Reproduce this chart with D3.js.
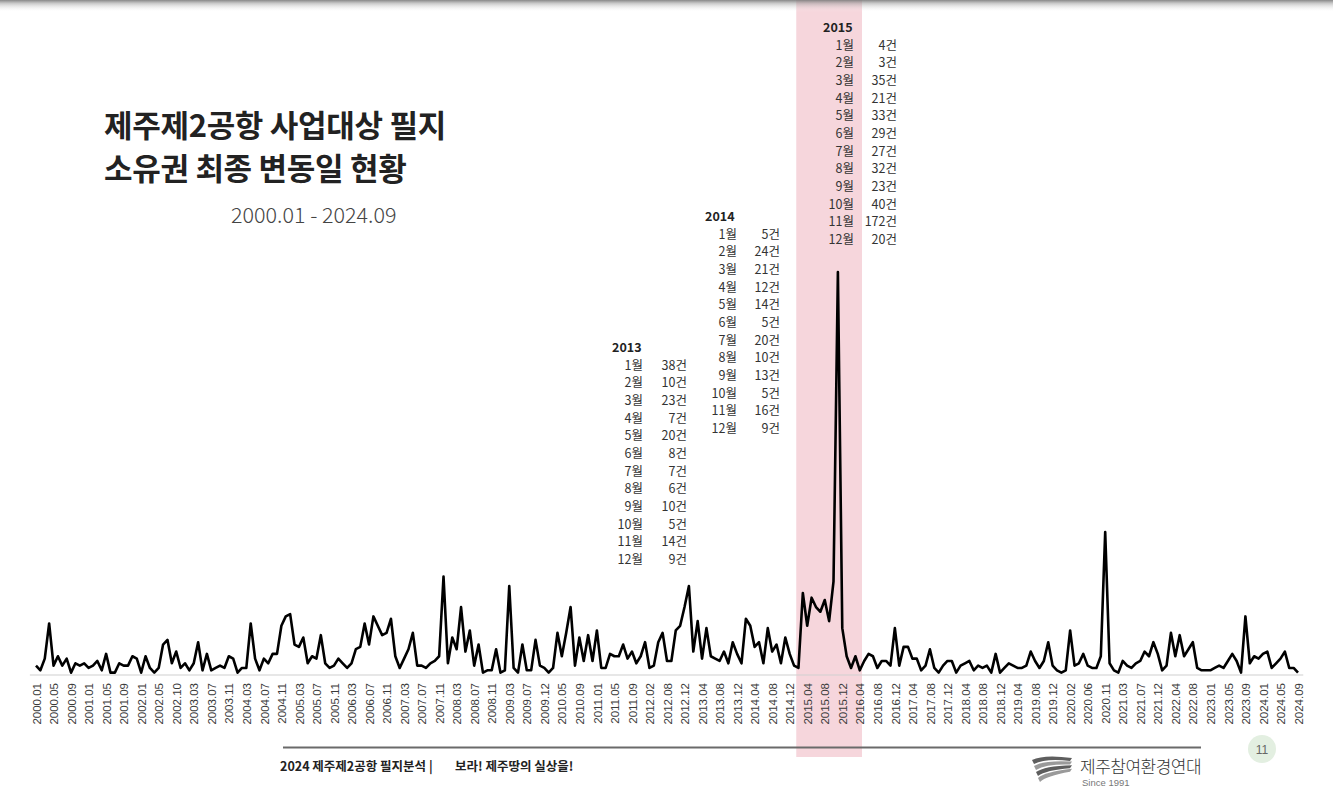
<!DOCTYPE html>
<html>
<head>
<meta charset="utf-8">
<script src="https://cdn.jsdelivr.net/npm/d3@7"></script>
<style>
  html, body { margin: 0; padding: 0; background: #fff; }
  svg { display: block; }
  .tick text { font-family: "Liberation Sans", Arial, sans-serif; font-size: 11.5px; fill: #3a3a3a; }
  .kr { font-family: "Noto Sans CJK KR", "Noto Sans", sans-serif; }
</style>
</head>
<body>
<svg id="container" width="1333" height="789"></svg>
<script>
// tick labels shown under the axis (every 4th category)
const tickLabels = [
  "2000.01","2000.05","2000.09","2001.01","2001.05","2001.09","2002.01","2002.05","2002.10",
  "2003.03","2003.07","2003.11","2004.03","2004.07","2004.11","2005.03","2005.07","2005.11",
  "2006.03","2006.07","2006.11","2007.03","2007.07","2007.11","2008.03","2008.07","2008.11",
  "2009.03","2009.07","2009.12","2010.05","2010.09","2011.01","2011.05","2011.09","2012.02",
  "2012.08","2012.12","2013.04","2013.08","2013.12","2014.04","2014.08","2014.12","2015.04",
  "2015.08","2015.12","2016.04","2016.08","2016.12","2017.04","2017.08","2017.12","2018.04",
  "2018.08","2018.12","2019.04","2019.08","2019.12","2020.02","2020.06","2020.11","2021.03",
  "2021.07","2021.12","2022.04","2022.08","2023.01","2023.05","2023.09","2024.01","2024.05",
  "2024.09"
];

// monthly count of parcels (last ownership change), one per category
const counts = [
  4, 2, 7, 22, 4, 8, 4, 7, 1, 5, 4, 5, 3, 4, 6, 2, 9, 1, 1, 5, 4, 4, 8, 7,
  1, 8, 3, 1, 3, 13, 15, 5, 10, 3, 5, 2, 5, 14, 2, 9, 2, 3, 4, 3, 8, 7, 1, 3,
  3, 22, 7, 2, 7, 5, 9, 9, 21, 25, 26, 13, 12, 16, 5, 8, 7, 17, 5, 3, 4, 7, 5, 3,
  5, 11, 12, 22, 13, 25, 21, 17, 18, 24, 8, 3, 7, 11, 18, 4, 4, 3, 5, 6, 8, 42, 5, 16,
  11, 29, 10, 19, 4, 13, 1, 2, 2, 11, 1, 2, 38, 3, 1, 13, 2, 2, 15, 4, 3, 1, 3, 18,
  8, 18, 29, 4, 16, 6, 17, 6, 19, 3, 3, 9, 8, 8, 13, 7, 10, 5, 8, 14, 3, 4, 14, 18,
  6, 6, 19, 21, 29,
  38, 10, 23, 7, 20, 8, 7, 6, 10, 5, 14, 9,
  5, 24, 21, 12, 14, 5, 20, 10, 13, 5, 16, 9,
  4, 3, 35, 21, 33, 29, 27, 32, 23, 40, 172, 20,
  8, 3, 8, 2, 6, 9, 8, 3, 6, 6, 4, 20, 4, 12, 12, 7, 7, 2, 4, 11, 3, 1, 4, 6,
  6, 1, 4, 5, 6, 2, 4, 3, 4, 1, 9, 1, 3, 5, 4, 3, 3, 4, 10, 6, 3, 6, 14, 4,
  2, 1, 2, 19, 4, 5, 9, 4, 3, 3, 8, 61, 5, 2, 1, 6, 4, 3, 5, 6, 10, 8, 14, 9,
  2, 4, 18, 8, 17, 8, 11, 14, 3, 2, 2, 2, 3, 4, 3, 6, 9, 6, 1, 25, 5, 8, 7, 9,
  10, 3, 5, 7, 10, 3, 3, 1
];

// annotation tables
const monthNames = ["1월","2월","3월","4월","5월","6월","7월","8월","9월","10월","11월","12월"];
const table2013 = [38, 10, 23, 7, 20, 8, 7, 6, 10, 5, 14, 9];
const table2014 = [5, 24, 21, 12, 14, 5, 20, 10, 13, 5, 16, 9];
const table2015 = [4, 3, 35, 21, 33, 29, 27, 32, 23, 40, 172, 20];

const titleLines = ["제주제2공항 사업대상 필지", "소유권 최종 변동일 현황"];
const subtitle = "2000.01 - 2024.09";

const svg = d3.select("#container");
const defs = svg.append("defs");

const x = d3.scaleLinear()
  .domain([0, counts.length - 1])
  .range([36, 1298]);

const y = d3.scaleLinear()
  .domain([0, 172])
  .range([675, 272]);

// highlighted band for 2015 (index of 2015.01 .. past 2015.12)
const bandStart = 173.5, bandEnd = 188.5;
svg.append("rect")
  .attr("x", x(bandStart))
  .attr("y", 0)
  .attr("width", x(bandEnd) - x(bandStart))
  .attr("height", 757)
  .attr("fill", "#f6d6dc");

// top shadow bar
const topGrad = defs.append("linearGradient")
  .attr("id", "top-grad")
  .attr("x1", "0%").attr("y1", "0%")
  .attr("x2", "0%").attr("y2", "100%");
topGrad.append("stop").attr("offset", 0).attr("stop-color", "#7a7a7a").attr("stop-opacity", 0.9);
topGrad.append("stop").attr("offset", 0.3).attr("stop-color", "#9a9a9a").attr("stop-opacity", 0.5);
topGrad.append("stop").attr("offset", 1).attr("stop-color", "#ffffff").attr("stop-opacity", 0);
svg.append("rect")
  .attr("x", 0).attr("y", 0)
  .attr("width", 1333).attr("height", 12)
  .attr("fill", "url(#top-grad)");

// titles
svg.selectAll(".title")
  .data(titleLines)
  .enter()
  .append("text")
  .attr("class", "title kr")
  .attr("x", 104)
  .attr("y", (d, i) => 137 + i * 43)
  .attr("font-size", 31)
  .attr("font-weight", 700)
  .attr("letter-spacing", -0.3)
  .attr("fill", "#222")
  .text(d => d);

svg.append("text")
  .attr("class", "kr")
  .attr("x", 231)
  .attr("y", 223)
  .attr("font-size", 21.5)
  .attr("font-weight", 300)
  .attr("fill", "#444")
  .text(subtitle);

// axis base line
svg.append("line")
  .attr("x1", x(-1.4)).attr("x2", x(counts.length + 0.2))
  .attr("y1", y(0)).attr("y2", y(0))
  .attr("stroke", "#cfcfcf")
  .attr("stroke-width", 1.2);

const xAxis = d3.axisBottom(x)
  .tickValues(d3.range(0, counts.length, 4))
  .tickFormat((d, i) => tickLabels[i])
  .tickSize(0);

const gx = svg.append("g")
  .attr("transform", `translate(0,${y(0)})`)
  .call(xAxis);
gx.select(".domain").remove();
gx.selectAll(".tick text")
  .attr("transform", "rotate(-90)")
  .attr("text-anchor", "end")
  .attr("x", -8)
  .attr("y", 0)
  .attr("dy", "0.36em");

// the series
const line = d3.line()
  .x((d, i) => x(i))
  .y(d => y(d));

svg.append("path")
  .datum(counts)
  .attr("fill", "none")
  .attr("stroke", "#000")
  .attr("stroke-width", 2.6)
  .attr("stroke-linejoin", "round")
  .attr("d", line);

// month tables
function drawTable(year, values, left, monthRight, countRight, top) {
  const g = svg.append("g").attr("class", "kr");
  g.append("text")
    .attr("x", left)
    .attr("y", top)
    .attr("font-size", 12.5)
    .attr("font-weight", 700)
    .attr("fill", "#222")
    .text(year);
  const rows = g.selectAll(".row")
    .data(values)
    .enter()
    .append("g")
    .attr("transform", (d, i) => `translate(0,${top + 17.65 * (i + 1)})`);
  rows.append("text")
    .attr("x", monthRight)
    .attr("text-anchor", "end")
    .attr("font-size", 12.5)
    .attr("fill", "#333")
    .text((d, i) => monthNames[i]);
  rows.append("text")
    .attr("x", countRight)
    .attr("text-anchor", "end")
    .attr("font-size", 12.5)
    .attr("fill", "#333")
    .text(d => d + "건");
}

drawTable("2013", table2013, 612, 643, 687, 352);
drawTable("2014", table2014, 705, 737, 780, 221);
drawTable("2015", table2015, 823, 854, 897, 32);

// footer
svg.append("line")
  .attr("x1", 283).attr("x2", 1201)
  .attr("y1", 747.5).attr("y2", 747.5)
  .attr("stroke", "#6a6a6a")
  .attr("stroke-width", 2);

svg.append("text")
  .attr("class", "kr")
  .attr("x", 280)
  .attr("y", 771)
  .attr("font-size", 12.5)
  .attr("font-weight", 700)
  .attr("fill", "#222")
  .text("2024 제주제2공항 필지분석  |");

svg.append("text")
  .attr("class", "kr")
  .attr("x", 455)
  .attr("y", 771)
  .attr("font-size", 12.5)
  .attr("font-weight", 700)
  .attr("fill", "#222")
  .text("보라! 제주땅의 실상을!");

// page number
svg.append("circle")
  .attr("cx", 1262).attr("cy", 749)
  .attr("r", 14)
  .attr("fill", "#e3efe1");
svg.append("text")
  .attr("x", 1262).attr("y", 753.5)
  .attr("text-anchor", "middle")
  .attr("font-family", "Liberation Sans, Arial, sans-serif")
  .attr("font-size", 12)
  .attr("fill", "#666")
  .text("11");

// logo
const logo = svg.append("g").attr("transform", "translate(1030,756)");
[0, 6, 12, 18].forEach((o, i) => {
  logo.append("path")
    .attr("d", `M${2 + i * 2},${4 + o} Q14,${-2 + o} 42,${2 + o * 0.6} L40,${5 + o * 0.6} Q16,${2 + o} ${4 + i * 2},${8 + o} Z`)
    .attr("fill", i % 2 ? "#9a9a9a" : "#5e5e5e");
});

svg.append("text")
  .attr("class", "kr")
  .attr("x", 1080)
  .attr("y", 773)
  .attr("font-size", 17)
  .attr("font-weight", 300)
  .attr("letter-spacing", -0.5)
  .attr("fill", "#333")
  .text("제주참여환경연대");
svg.append("text")
  .attr("x", 1082)
  .attr("y", 786)
  .attr("font-family", "Liberation Sans, Arial, sans-serif")
  .attr("font-size", 9.5)
  .attr("fill", "#777")
  .text("Since 1991");
</script>
</body>
</html>
